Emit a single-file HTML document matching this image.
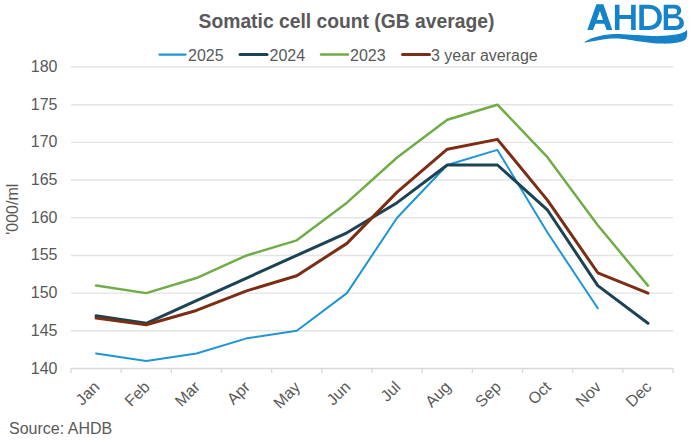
<!DOCTYPE html>
<html><head><meta charset="utf-8"><style>
html,body{margin:0;padding:0;background:#fff;}
body{width:693px;height:444px;overflow:hidden;}
svg{display:block;font-family:"Liberation Sans",sans-serif;}
</style></head><body>
<svg width="693" height="444" viewBox="0 0 693 444">
<rect width="693" height="444" fill="#fff"/>
<text x="198.6" y="28" font-size="19.3" font-weight="bold" fill="#595959">Somatic cell count (GB average)</text>
<g font-size="16" fill="#595959">
<line x1="159.5" y1="54.5" x2="185.5" y2="54.5" stroke="#1f96d3" stroke-width="2.25" stroke-linecap="round"/>
<text x="188" y="60.8">2025</text>
<line x1="240" y1="54.5" x2="267" y2="54.5" stroke="#1b4353" stroke-width="3" stroke-linecap="round"/>
<text x="269.5" y="60.8">2024</text>
<line x1="321" y1="54.5" x2="348" y2="54.5" stroke="#70ad47" stroke-width="2.5" stroke-linecap="round"/>
<text x="350" y="60.8">2023</text>
<line x1="402.5" y1="54.5" x2="429.5" y2="54.5" stroke="#7c2e14" stroke-width="3" stroke-linecap="round"/>
<text x="431" y="60.8">3 year average</text>
</g>
<line x1="71" y1="330.81" x2="673" y2="330.81" stroke="#e4e4e4" stroke-width="1.4"/>
<line x1="71" y1="293.12" x2="673" y2="293.12" stroke="#e4e4e4" stroke-width="1.4"/>
<line x1="71" y1="255.44" x2="673" y2="255.44" stroke="#e4e4e4" stroke-width="1.4"/>
<line x1="71" y1="217.75" x2="673" y2="217.75" stroke="#e4e4e4" stroke-width="1.4"/>
<line x1="71" y1="180.06" x2="673" y2="180.06" stroke="#e4e4e4" stroke-width="1.4"/>
<line x1="71" y1="142.38" x2="673" y2="142.38" stroke="#e4e4e4" stroke-width="1.4"/>
<line x1="71" y1="104.69" x2="673" y2="104.69" stroke="#e4e4e4" stroke-width="1.4"/>
<line x1="71" y1="67.00" x2="673" y2="67.00" stroke="#e4e4e4" stroke-width="1.4"/>

<line x1="71" y1="368.5" x2="673" y2="368.5" stroke="#d9d9d9" stroke-width="1.3"/>
<line x1="71.00" y1="368.5" x2="71.00" y2="373" stroke="#d9d9d9" stroke-width="1.3"/>
<line x1="121.17" y1="368.5" x2="121.17" y2="373" stroke="#d9d9d9" stroke-width="1.3"/>
<line x1="171.34" y1="368.5" x2="171.34" y2="373" stroke="#d9d9d9" stroke-width="1.3"/>
<line x1="221.51" y1="368.5" x2="221.51" y2="373" stroke="#d9d9d9" stroke-width="1.3"/>
<line x1="271.68" y1="368.5" x2="271.68" y2="373" stroke="#d9d9d9" stroke-width="1.3"/>
<line x1="321.85" y1="368.5" x2="321.85" y2="373" stroke="#d9d9d9" stroke-width="1.3"/>
<line x1="372.02" y1="368.5" x2="372.02" y2="373" stroke="#d9d9d9" stroke-width="1.3"/>
<line x1="422.19" y1="368.5" x2="422.19" y2="373" stroke="#d9d9d9" stroke-width="1.3"/>
<line x1="472.36" y1="368.5" x2="472.36" y2="373" stroke="#d9d9d9" stroke-width="1.3"/>
<line x1="522.53" y1="368.5" x2="522.53" y2="373" stroke="#d9d9d9" stroke-width="1.3"/>
<line x1="572.70" y1="368.5" x2="572.70" y2="373" stroke="#d9d9d9" stroke-width="1.3"/>
<line x1="622.87" y1="368.5" x2="622.87" y2="373" stroke="#d9d9d9" stroke-width="1.3"/>
<line x1="673.04" y1="368.5" x2="673.04" y2="373" stroke="#d9d9d9" stroke-width="1.3"/>

<g font-size="16" fill="#595959">
<text x="57.5" y="373.50" text-anchor="end">140</text>
<text x="57.5" y="335.81" text-anchor="end">145</text>
<text x="57.5" y="298.12" text-anchor="end">150</text>
<text x="57.5" y="260.44" text-anchor="end">155</text>
<text x="57.5" y="222.75" text-anchor="end">160</text>
<text x="57.5" y="185.06" text-anchor="end">165</text>
<text x="57.5" y="147.38" text-anchor="end">170</text>
<text x="57.5" y="109.69" text-anchor="end">175</text>
<text x="57.5" y="72.00" text-anchor="end">180</text>

<text transform="translate(100.58,388) rotate(-45)" text-anchor="end">Jan</text>
<text transform="translate(150.75,388) rotate(-45)" text-anchor="end">Feb</text>
<text transform="translate(200.92,388) rotate(-45)" text-anchor="end">Mar</text>
<text transform="translate(251.09,388) rotate(-45)" text-anchor="end">Apr</text>
<text transform="translate(301.26,388) rotate(-45)" text-anchor="end">May</text>
<text transform="translate(351.43,388) rotate(-45)" text-anchor="end">Jun</text>
<text transform="translate(401.60,388) rotate(-45)" text-anchor="end">Jul</text>
<text transform="translate(451.77,388) rotate(-45)" text-anchor="end">Aug</text>
<text transform="translate(501.94,388) rotate(-45)" text-anchor="end">Sep</text>
<text transform="translate(552.11,388) rotate(-45)" text-anchor="end">Oct</text>
<text transform="translate(602.28,388) rotate(-45)" text-anchor="end">Nov</text>
<text transform="translate(652.45,388) rotate(-45)" text-anchor="end">Dec</text>

<text transform="translate(18,209.2) rotate(-90)" text-anchor="middle">'000/ml</text>
<text x="9" y="433.8">Source: AHDB</text>
</g>
<g fill="none" stroke-linejoin="round" stroke-linecap="round">
<polyline points="96.08,353.43 146.25,360.96 196.42,353.43 246.59,338.35 296.76,330.81 346.93,293.12 397.10,217.75 447.27,164.99 497.44,149.91 547.61,232.82 597.78,308.20" stroke="#1f96d3" stroke-width="2.0"/>
<polyline points="96.08,285.59 146.25,293.12 196.42,278.05 246.59,255.44 296.76,240.36 346.93,202.67 397.10,157.45 447.27,119.76 497.44,104.69 547.61,157.45 597.78,225.29 647.95,285.59" stroke="#70ad47" stroke-width="2.5"/>
<polyline points="96.08,315.74 146.25,323.27 196.42,300.66 246.59,278.05 296.76,255.44 346.93,232.82 397.10,202.67 447.27,164.99 497.44,164.99 547.61,210.21 597.78,285.59 647.95,323.27" stroke="#1b4353" stroke-width="3"/>
<polyline points="96.08,318.00 146.25,324.78 196.42,310.46 246.59,290.86 296.76,275.79 346.93,243.38 397.10,192.12 447.27,149.16 497.44,139.36 547.61,200.41 597.78,272.77 647.95,293.12" stroke="#7c2e14" stroke-width="3"/>
</g>
<g fill="#1682c8">
<path fill-rule="evenodd" d="M587.3,30 L596.4,4.3 L603.4,4.3 L612.3,30 L606.7,30 L604.2,23.8 L595.5,23.8 L593,30 Z M596.8,20 L599.9,11 L603,20 Z"/>
<path d="M614.9,4.7 H619.5 V15.1 H631.1 V4.7 H635.7 V29.9 H631.1 V19.1 H619.5 V29.9 H614.9 Z"/>
<path fill-rule="evenodd" d="M639.3,4.7 H648.5 C656.5,4.7 661.9,9.6 661.9,17.3 C661.9,25 656.5,29.9 648.5,29.9 H639.3 Z M643.9,8.8 H648.2 C654.2,8.8 657.3,12 657.3,17.3 C657.3,22.6 654.2,26 648.2,26 H643.9 Z"/>
<path fill-rule="evenodd" d="M663.7,4.7 H674.5 C679,4.7 681.2,7.3 681.2,10.6 C681.2,13.3 679.6,15.2 677.3,16 C681.2,16.8 683.9,19.3 683.9,23 C683.9,27.3 680.8,29.9 675.8,29.9 H663.7 Z M668.1,8.6 H674 C676.2,8.6 677.1,9.7 677.1,11.3 C677.1,13 676.1,14.3 673.9,14.3 H668.1 Z M668.1,18.3 H674.9 C677.9,18.3 679.5,19.9 679.5,22.2 C679.5,24.6 678,25.9 674.9,25.9 H668.1 Z"/>
<path d="M584.60,42.10 C585.33,41.50 588.52,39.58 590.90,38.60 C593.28,37.62 596.25,36.83 598.90,36.20 C601.55,35.57 604.17,35.15 606.80,34.80 C609.43,34.45 612.05,34.20 614.70,34.10 C617.35,34.00 620.05,34.10 622.70,34.20 C625.35,34.30 628.13,34.55 630.60,34.70 C633.07,34.85 635.28,34.98 637.50,35.10 C639.72,35.22 641.50,35.25 643.90,35.40 C646.30,35.55 649.25,35.88 651.90,36.00 C654.55,36.12 657.17,36.17 659.80,36.10 C662.43,36.03 665.05,35.87 667.70,35.60 C670.35,35.33 673.32,34.95 675.70,34.50 C678.08,34.05 680.38,33.45 682.00,32.90 C683.62,32.35 684.58,31.67 685.40,31.20 C686.22,30.73 686.60,29.55 686.90,30.10 C687.20,30.65 687.32,33.13 687.20,34.50 C687.08,35.87 686.82,37.25 686.20,38.30 C685.58,39.35 684.87,40.10 683.50,40.80 C682.13,41.50 680.25,42.05 678.00,42.50 C675.75,42.95 672.83,43.32 670.00,43.50 C667.17,43.68 664.00,43.70 661.00,43.60 C658.00,43.50 654.83,43.17 652.00,42.90 C649.17,42.63 646.67,42.33 644.00,42.00 C641.33,41.67 638.50,41.28 636.00,40.90 C633.50,40.52 631.22,40.03 629.00,39.70 C626.78,39.37 625.08,39.08 622.70,38.90 C620.32,38.72 617.35,38.58 614.70,38.60 C612.05,38.62 609.43,38.73 606.80,39.00 C604.17,39.27 601.53,39.77 598.90,40.20 C596.27,40.63 593.07,41.27 591.00,41.60 C588.93,41.93 587.57,42.12 586.50,42.20 C585.43,42.28 583.87,42.70 584.60,42.10 Z"/>
</g>
</svg>
</body></html>
